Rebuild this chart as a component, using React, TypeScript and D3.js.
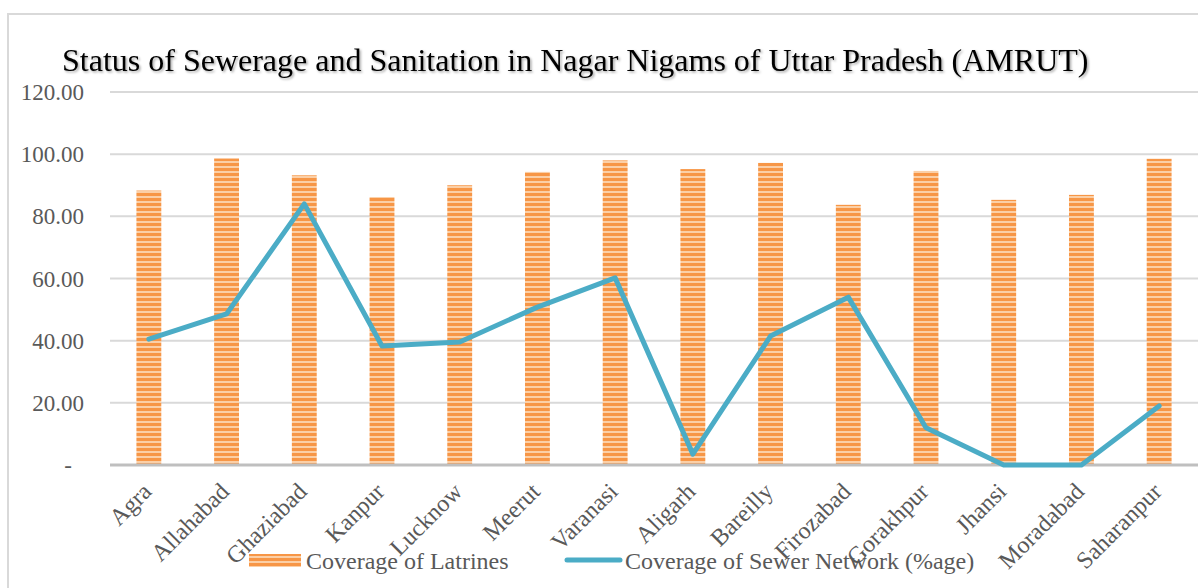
import React from "react";
import * as d3 from "d3";

const cities = [
  "Agra", "Allahabad", "Ghaziabad", "Kanpur", "Lucknow", "Meerut", "Varanasi",
  "Aligarh", "Bareilly", "Firozabad", "Gorakhpur", "Jhansi", "Moradabad", "Saharanpur",
];
const latrines = [88.3, 98.6, 93.2, 86.2, 90.0, 94.3, 98.0, 95.2, 97.2, 83.7, 94.6, 85.3, 86.9, 98.5];
const sewer = [40.5, 48.6, 84.0, 38.3, 39.6, 50.8, 60.2, 3.5, 41.5, 54.0, 12.0, 0, 0, 19.0];
const yTicks = [0, 20, 40, 60, 80, 100, 120];

const title = "Status of Sewerage and Sanitation in Nagar Nigams of Uttar Pradesh (AMRUT)";

const App = () => {
  const left = 110;
  const right = 1198;
  const top = 92;
  const bottom = 465;

  const x = d3.scaleBand<string>()
    .domain(cities)
    .range([left, right])
    .paddingInner(0.68)
    .paddingOuter(0.34);
  const y = d3.scaleLinear().domain([0, 120]).range([bottom, top]);
  const cx = (c: string) => (x(c) as number) + x.bandwidth() / 2;

  const line = d3.line<number>()
    .x((_, i) => cx(cities[i]))
    .y((d) => y(d));

  const font = "'Liberation Serif', 'Times New Roman', serif";

  return (
    <svg width={1198} height={588} style={{ position: "absolute", left: 0, top: 0 }}
      fontFamily={font}>
      <defs>
        <pattern id="stripes" width={6} height={5} patternUnits="userSpaceOnUse">
          <rect width={6} height={5} fill="#F79646" />
          <rect y={1} width={6} height={2} fill="#FBCFA6" />
        </pattern>
        <filter id="shadow" x="-5%" y="-30%" width="110%" height="160%">
          <feDropShadow dx={1.5} dy={1.5} stdDeviation={1.2} floodColor="#000" floodOpacity={0.35} />
        </filter>
      </defs>
      <rect x={8} y={14} width={1300} height={700} fill="#fff" stroke="#D9D9D9" strokeWidth={2} />

      <text x={62} y={71} fontSize={32} fill="#000" filter="url(#shadow)">{title}</text>

      {yTicks.map((t) => (
        <g key={t}>
          {t > 0 && (
            <line x1={left} x2={right} y1={y(t)} y2={y(t)} stroke="#D9D9D9" strokeWidth={2} />
          )}
          <text x={t === 0 ? 72 : 84} y={y(t)} dy="0.35em" textAnchor="end"
            fontSize={23} fill="#595959">
            {t === 0 ? "-" : t.toFixed(2)}
          </text>
        </g>
      ))}

      {cities.map((c, i) => (
        <rect key={c} x={x(c)} y={y(latrines[i])} width={x.bandwidth()}
          height={bottom - y(latrines[i])} fill="url(#stripes)" />
      ))}

      <line x1={left} x2={right} y1={bottom} y2={bottom} stroke="#BFBFBF" strokeWidth={3} />

      <path d={line(sewer) || ""} fill="none" stroke="#4BACC6" strokeWidth={5}
        strokeLinejoin="round" strokeLinecap="round" />

      {cities.map((c) => (
        <text key={c} transform={`translate(${cx(c) + 4},${bottom + 28}) rotate(-45)`}
          textAnchor="end" fontSize={24} fill="#595959">
          {c}
        </text>
      ))}

      <g>
        <rect x={249} y={554} width={52} height={13} fill="url(#stripes)" />
        <text x={306} y={561} dy="0.35em" fontSize={24} fill="#595959">Coverage of Latrines</text>
        <line x1={567} x2={620} y1={560} y2={560} stroke="#4BACC6" strokeWidth={5} strokeLinecap="round" />
        <text x={625} y={561} dy="0.35em" fontSize={24} fill="#595959">Coverage of Sewer Network (%age)</text>
      </g>
    </svg>
  );
};

export default App;
